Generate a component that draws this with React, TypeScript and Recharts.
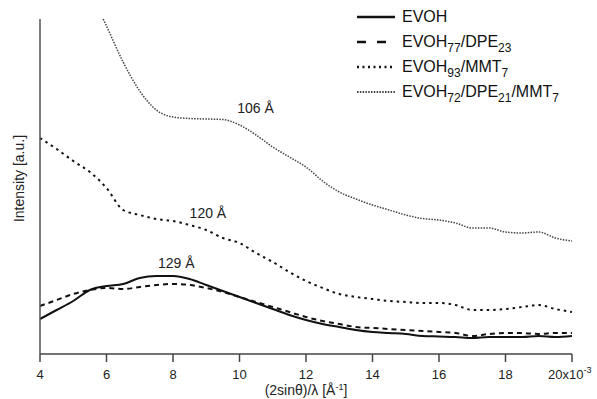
import { LineChart, Line, XAxis, YAxis, Legend, ReferenceDot } from "recharts";

// scattering vector q = (2 sin θ)/λ in units of 10^-3 Å^-1
const q = [
  4, 4.5, 5, 5.5, 6, 6.5, 7, 7.5, 8, 8.5, 9, 9.5, 10, 10.5, 11, 11.5, 12,
  12.5, 13, 13.5, 14, 14.5, 15, 15.5, 16, 16.5, 17, 17.5, 18, 18.5, 19, 19.5, 20,
];
const evoh = [
  35, 44, 53, 64, 68, 70, 76, 78, 78, 75, 69, 63, 57, 51, 45, 39, 34, 30, 27,
  24, 22, 21, 20, 18, 17.5, 17, 16, 17, 17, 17, 18, 17, 18,
];
const evohDpe = [
  48, 54, 60, 64, 66, 65, 67, 69, 70, 69, 66, 62, 57, 52, 47, 42, 37, 33, 30,
  27, 26, 25, 24, 23, 22, 21, 18, 20, 21, 21, 20, 21, 21,
];
const evohMmt = [
  216, 205, 193, 182, 166, 144, 139, 135, 133, 129, 124, 116, 111, 101, 92, 82,
  73, 66, 60, 57, 55, 53, 52, 51, 51, 49, 44, 44, 45, 47, 49, 45, 42,
];
// the ternary blend enters the frame a bit later
const qTop = [
  5.9, 6, 6.5, 7, 7.5, 8, 8.5, 9, 9.5, 10, 10.5, 11, 11.5, 12, 12.5, 13, 13.5,
  14, 14.5, 15, 15.5, 16, 16.5, 17, 17.5, 18, 18.5, 19, 19.5, 20,
];
const evohDpeMmt = [
  335, 328, 292, 263, 244, 237, 235.5, 235, 234.5, 229, 219, 207, 197, 187, 173,
  162, 155, 149, 144, 139, 135.5, 134, 131, 126, 126, 122, 121, 122, 116, 113,
];
const qTicks = [4, 6, 8, 10, 12, 14, 16, 18, 20];

const FONT = "'Liberation Sans', Arial, sans-serif";
const INK = "#111";

const rows = (xs: number[], ys: number[]) => xs.map((x, i) => ({ q: x, v: ys[i] }));

const series = [
  { key: "evoh", data: rows(q, evoh), dash: undefined, width: 2, color: INK, legendDash: undefined },
  { key: "evohDpe", data: rows(q, evohDpe), dash: "5 4", width: 2, color: INK, legendDash: "9 11" },
  { key: "evohMmt", data: rows(q, evohMmt), dash: "2.5 4", width: 2, color: INK, legendDash: "2 3.5" },
  { key: "evohDpeMmt", data: rows(qTop, evohDpeMmt), dash: "1.5 1.3", width: 1.5, color: "#444", legendDash: "1.5 1.3" },
];

const peaks = [
  { q: 10.48, v: 246, text: "106 Å" },
  { q: 9.05, v: 141, text: "120 Å" },
  { q: 8.1, v: 91, text: "129 Å" },
];

const Sub = ({ children }: { children: React.ReactNode }) => (
  <span style={{ fontSize: 12, position: "relative", top: 5 }}>{children}</span>
);

const legendNames: React.ReactNode[] = [
  <>EVOH</>,
  <>EVOH<Sub>77</Sub>/DPE<Sub>23</Sub></>,
  <>EVOH<Sub>93</Sub>/MMT<Sub>7</Sub></>,
  <>EVOH<Sub>72</Sub>/DPE<Sub>21</Sub>/MMT<Sub>7</Sub></>,
];

function LegendBox() {
  return (
    <div style={{ fontFamily: FONT, fontSize: 16, color: "#111" }}>
      {series.map((s, i) => (
        <div key={s.key} style={{ height: 25, display: "flex", alignItems: "center" }}>
          <svg width={38} height={10} style={{ marginRight: 7 }}>
            <line
              x1={0}
              y1={5}
              x2={38}
              y2={5}
              stroke={s.color}
              strokeWidth={s.width + 0.5}
              strokeDasharray={s.legendDash}
            />
          </svg>
          <span>{legendNames[i]}</span>
        </div>
      ))}
    </div>
  );
}

function QTick({ x, y, payload }: any) {
  const last = payload.value === 20;
  return (
    <text
      x={last ? x - 24 : x}
      y={y}
      dy="0.71em"
      textAnchor={last ? "start" : "middle"}
      fontSize={13}
      fontFamily={FONT}
      fill="#222"
    >
      {payload.value}
      {last && (
        <>
          x10
          <tspan dy={-6} fontSize={9}>
            -3
          </tspan>
        </>
      )}
    </text>
  );
}

export default function App() {
  return (
    <div style={{ position: "absolute", left: 0, top: 0, background: "#fff" }}>
      <LineChart width={597} height={399} margin={{ top: 19, right: 25, bottom: 0, left: 0 }}>
        <XAxis
          dataKey="q"
          type="number"
          domain={[4, 20]}
          ticks={qTicks}
          tick={<QTick />}
          tickSize={8}
          tickMargin={8}
          height={45}
          axisLine={{ stroke: "#444", strokeWidth: 1.5 }}
          tickLine={{ stroke: "#444", strokeWidth: 1.5 }}
          label={{
            content: ({ viewBox }: any) => (
              <text
                x={viewBox.x + viewBox.width / 2}
                y={viewBox.y + 41}
                textAnchor="middle"
                fontSize={14}
                fontFamily={FONT}
                fill="#222"
              >
                (2sinθ)/λ [Å
                <tspan dy={-5} fontSize={9}>-1</tspan>
                <tspan dy={5}>]</tspan>
              </text>
            ),
          }}
        />
        <YAxis
          type="number"
          domain={[0, 335]}
          width={40}
          tick={false}
          tickLine={false}
          axisLine={{ stroke: "#555", strokeWidth: 1.5 }}
          label={{
            content: ({ viewBox }: any) => (
              <text
                transform={`translate(${viewBox.x + 24}, ${viewBox.y + viewBox.height / 2 - 8}) rotate(-90)`}
                textAnchor="middle"
                fontSize={14}
                fontFamily={FONT}
                fill="#222"
              >
                Intensity [a.u.]
              </text>
            ),
          }}
        />
        <Legend
          layout="horizontal"
          verticalAlign="middle"
          align="center"
          content={<LegendBox />}
          wrapperStyle={{ top: 4, left: 357, width: 240, height: 104 }}
        />
        {series.map((s) => (
          <Line
            key={s.key}
            data={s.data}
            dataKey="v"
            type="monotone"
            stroke={s.color}
            strokeWidth={s.width}
            strokeDasharray={s.dash}
            dot={false}
            activeDot={false}
            isAnimationActive={false}
          />
        ))}
        {peaks.map((p) => (
          <ReferenceDot
            key={p.text}
            x={p.q}
            y={p.v}
            r={0}
            fill="none"
            stroke="none"
            label={{ value: p.text, position: "center", fontSize: 14, fontFamily: FONT, fill: "#222" }}
          />
        ))}
      </LineChart>
    </div>
  );
}
